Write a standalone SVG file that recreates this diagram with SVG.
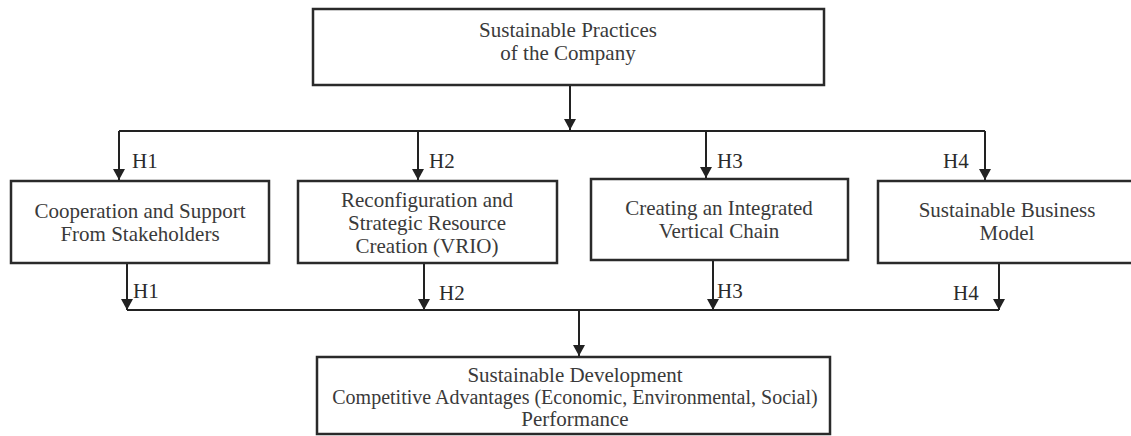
<svg xmlns="http://www.w3.org/2000/svg" width="1131" height="436" viewBox="0 0 1131 436">
<style>
.box{fill:#fff;stroke:#2a2a2a;stroke-width:2.5}
.t{font-family:"Liberation Serif","Times New Roman",serif;font-size:21px;fill:#3a3a3a;text-anchor:middle}
.s{font-size:20px}
.h{font-family:"Liberation Serif","Times New Roman",serif;font-size:21px;fill:#2a2a2a}
.c{fill:none;stroke:#222;stroke-width:2}
</style>
<defs>
<marker id="a" markerUnits="userSpaceOnUse" markerWidth="12" markerHeight="12" viewBox="0 0 12 12" refX="11" refY="6" orient="auto">
<path d="M0,0 L11,6 L0,12 Z" fill="#222"/>
</marker>
</defs>
<rect width="1131" height="436" fill="#fff"/>
<g id="connectors">
<path class="c" d="M570,85 V130" marker-end="url(#a)"/>
<path class="c" d="M119,131 H985"/>
<path class="c" d="M119,131 V180" marker-end="url(#a)"/>
<path class="c" d="M418,131 V180" marker-end="url(#a)"/>
<path class="c" d="M706,131 V178" marker-end="url(#a)"/>
<path class="c" d="M985,131 V180" marker-end="url(#a)"/>
<path class="c" d="M127,263 V310" marker-end="url(#a)"/>
<path class="c" d="M424,263 V310" marker-end="url(#a)"/>
<path class="c" d="M713,260 V310" marker-end="url(#a)"/>
<path class="c" d="M999,263 V310" marker-end="url(#a)"/>
<path class="c" d="M127,310 H999"/>
<path class="c" d="M579,310 V356" marker-end="url(#a)"/>
<text class="h" x="132" y="168">H1</text>
<text class="h" x="429" y="168">H2</text>
<text class="h" x="717" y="168">H3</text>
<text class="h" x="943" y="168">H4</text>
<text class="h" x="133" y="298">H1</text>
<text class="h" x="439" y="300">H2</text>
<text class="h" x="717" y="298">H3</text>
<text class="h" x="953" y="300">H4</text>
</g>
<g id="practices">
<rect class="box" x="313" y="9" width="511" height="76"/>
<text class="t" x="568" y="37">Sustainable Practices</text>
<text class="t" x="568" y="60">of the Company</text>
</g>
<g id="cooperation">
<rect class="box" x="11" y="181" width="258" height="82"/>
<text class="t" x="140" y="218">Cooperation and Support</text>
<text class="t" x="140" y="241">From Stakeholders</text>
</g>
<g id="reconfiguration">
<rect class="box" x="298" y="181" width="259" height="82"/>
<text class="t" x="427" y="207">Reconfiguration and</text>
<text class="t" x="427" y="230">Strategic Resource</text>
<text class="t" x="427" y="253">Creation (VRIO)</text>
</g>
<g id="vertical-chain">
<rect class="box" x="591" y="179" width="257" height="81"/>
<text class="t" x="719" y="215">Creating an Integrated</text>
<text class="t" x="719" y="238">Vertical Chain</text>
</g>
<g id="business-model">
<rect class="box" x="878" y="181" width="258" height="82"/>
<text class="t" x="1007" y="217">Sustainable Business</text>
<text class="t" x="1007" y="240">Model</text>
</g>
<g id="development">
<rect class="box" x="317" y="357" width="513" height="77"/>
<text class="t" x="575" y="382">Sustainable Development</text>
<text class="t s" x="575" y="404">Competitive Advantages (Economic, Environmental, Social)</text>
<text class="t" x="575" y="426">Performance</text>
</g>
</svg>
